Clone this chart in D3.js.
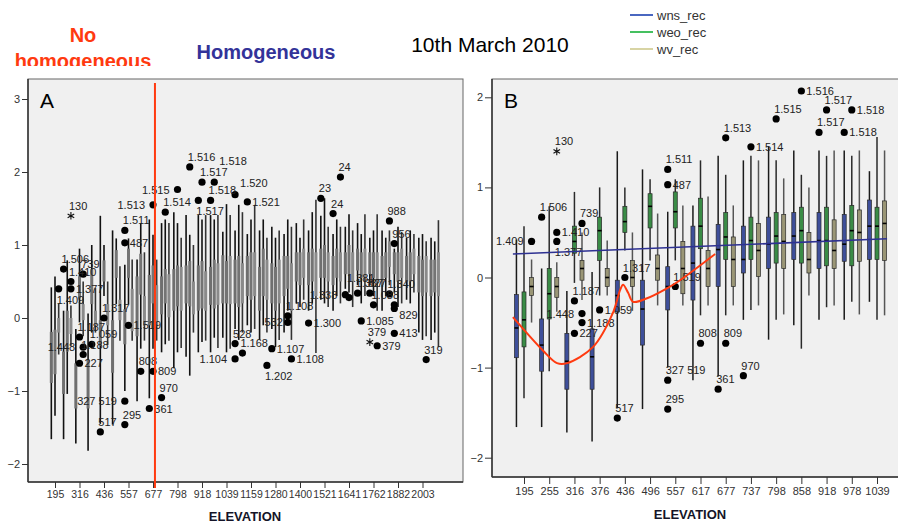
<!DOCTYPE html>
<html><head><meta charset="utf-8">
<script src="https://cdn.jsdelivr.net/npm/d3@7"></script>
<style>body{margin:0;background:#fff}svg{display:block;font-family:"Liberation Sans",Arial,sans-serif}</style>
</head><body><svg id="c" width="898" height="525"></svg>
<script>
// ---------- DATA ----------
const categories = [195,255,316,376,436,496,557,617,677,737,798,858,918,978,1039,1099,1159,1220,1280,1340,1400,1461,1521,1581,1641,1702,1762,1822,1882,1943,2003,2063];
const tickLabelsA = [195,316,436,557,677,798,918,1039,1159,1280,1400,1521,1641,1762,1882,2003];
const tickLabelsB = [195,255,316,376,436,496,557,617,677,737,798,858,918,978,1039];
const yTicksA = [-2,-1,0,1,2,3];
const yTicksB = [-2,-1,0,1,2];
const seriesNames = ["wns_rec","weo_rec","wv_rec"];

const wnsLo  = [-1.66,-1.66,-1.72,-1.82,-1.45,-1.46,-1.00,-1.14,-1.10,-0.47,-0.69,-0.53,-0.47,-0.47,-0.27,-0.15,-0.10,-0.30,-0.15,-0.20,0.20,0.10,0.25,0.10,0.40,0.45,0.45,0.10,0.35,0.25,-0.20,-0.30];
const wnsQ1  = [-0.89,-1.04,-1.24,-1.24,-0.38,-0.75,-0.36,-0.25,-0.10,0.05,0.10,0.20,0.10,0.18,0.20,0.20,0.30,0.10,0.20,0.30,0.50,0.45,0.55,0.45,0.60,0.65,0.60,0.45,0.60,0.50,0.35,0.30];
const wnsMed = [-0.56,-0.75,-0.93,-0.88,-0.20,-0.35,-0.10,0.16,0.31,0.20,0.37,0.46,0.41,0.37,0.57,0.50,0.55,0.40,0.45,0.55,0.70,0.65,0.75,0.65,0.75,0.80,0.75,0.65,0.75,0.65,0.60,0.55];
const wnsQ3  = [-0.19,-0.46,-0.62,-0.57,-0.03,-0.03,0.12,0.57,0.59,0.57,0.67,0.72,0.72,0.70,0.86,0.80,0.85,0.70,0.75,0.85,0.90,0.90,0.95,0.85,0.90,0.95,0.90,0.85,0.90,0.85,0.85,0.80];
const wnsHi  = [0.42,0.10,-0.15,0.06,1.40,1.20,0.73,0.80,1.35,1.30,1.45,1.41,1.41,1.41,1.18,1.20,1.15,1.20,1.25,1.15,1.30,1.20,1.40,1.15,1.25,1.30,1.10,1.20,0.95,1.10,1.10,1.10];

const weoLo  = [-1.34,-1.04,-0.06,-0.20,0.30,0.19,0.19,-0.42,-0.42,-0.36,-0.47,-0.79,-0.33,-0.27,-0.47,-0.30,-0.20,-0.10,-0.40,0.10,0.15,0.20,0.20,0.30,0.35,0.20,0.30,0.30,0.15,0.20,-0.30,-0.20];
const weoQ1  = [-0.77,-0.46,0.27,0.19,0.50,0.55,0.55,0.32,0.20,0.20,0.16,0.16,0.13,0.13,0.20,0.15,0.25,0.30,0.10,0.40,0.45,0.50,0.55,0.55,0.60,0.55,0.55,0.55,0.50,0.50,0.30,0.35];
const weoMed = [-0.47,-0.18,0.40,0.52,0.62,0.79,0.73,0.57,0.45,0.41,0.46,0.52,0.41,0.52,0.57,0.45,0.50,0.60,0.40,0.60,0.65,0.70,0.75,0.75,0.80,0.70,0.70,0.70,0.70,0.70,0.55,0.55];
const weoQ3  = [-0.16,0.10,0.57,0.67,0.79,0.93,0.95,0.88,0.72,0.67,0.72,0.78,0.78,0.80,0.78,0.85,0.90,0.95,0.70,0.85,0.90,0.95,1.00,0.95,1.00,0.90,0.90,0.90,0.90,0.90,0.80,0.80];
const weoHi  = [0.57,0.79,0.95,1.00,1.00,1.09,1.09,1.30,1.14,1.35,1.30,1.14,1.35,1.35,1.56,1.55,1.35,1.35,1.10,1.35,1.10,1.45,1.64,1.35,1.42,1.15,1.20,1.10,1.25,1.20,1.15,1.05];

const wvLo   = [-0.50,-0.38,-0.25,-0.20,-0.37,-0.31,-0.31,-0.31,-0.31,-0.31,-0.41,-0.20,-0.31,-0.41,-0.42,-0.20,-0.15,-0.20,-0.30,-0.30,0.25,-0.48,0.15,0.20,0.15,0.30,0.10,0.45,0.20,0.35,-0.25,-0.40];
const wvQ1   = [-0.20,-0.22,-0.03,-0.10,-0.10,-0.03,-0.18,-0.10,-0.10,0.01,0.10,0.05,0.10,0.18,0.19,0.20,0.30,0.25,0.20,0.10,0.55,0.30,0.50,0.50,0.50,0.55,0.50,0.70,0.55,0.60,0.35,0.30];
const wvMed  = [-0.10,-0.10,0.10,0.00,0.00,0.10,0.10,0.10,0.20,0.30,0.40,0.20,0.30,0.50,0.60,0.50,0.60,0.50,0.50,0.45,0.75,0.60,0.70,0.70,0.70,0.75,0.70,0.90,0.75,0.80,0.60,0.60];
const wvQ3   = [0.00,0.00,0.19,0.10,0.19,0.25,0.40,0.30,0.45,0.60,0.70,0.50,0.64,0.75,0.85,0.75,0.90,0.80,0.80,0.75,0.95,0.90,0.90,0.90,0.90,0.95,0.90,1.05,0.95,0.95,0.85,0.90];
const wvHi   = [0.20,0.17,0.50,0.41,0.50,0.71,0.80,0.90,0.80,1.30,1.10,1.00,1.41,1.41,1.41,1.45,1.55,1.10,1.20,1.25,1.35,1.62,1.25,1.25,1.20,1.42,1.42,1.20,1.18,1.15,1.05,1.34];

// outliers (category index, series index, value, case label, star?)
const outCat    = [0,1,1,1,1,2,2,2,2,2,3,4,4,6,6,6,6,6,7,8,8,8,9,9,10,11,12,12,13,13,15,16,15,15,15,17,18,19,19,19,21,22,23,23,24,24,25,25,26,26,26,26,27,27,28,28,28,28,30];
const outSeries = [2,0,2,2,2,1,1,2,2,2,1,0,1,0,0,0,0,1,1,0,1,1,0,1,1,1,0,1,0,1,0,0,0,0,2,2,0,1,1,2,0,0,0,2,0,1,0,1,0,1,0,2,2,2,0,0,0,0,2];
const outVal    = [0.40,0.67,0.50,0.40,1.40,-0.26,-0.62,0.60,-0.40,-0.50,-0.36,-1.56,0.00,1.20,1.03,-1.14,-1.46,-0.10,-0.73,-1.24,1.55,-0.73,-1.09,1.45,1.76,2.07,1.61,1.86,1.61,1.86,1.69,1.59,-0.35,-0.56,-0.48,-0.65,-0.42,0.03,-0.06,-0.56,-0.07,1.64,1.43,1.93,0.32,0.28,0.34,-0.04,0.34,0.18,-0.33,-0.38,0.33,1.33,1.02,0.18,0.13,-0.21,-0.57];
const outLabel  = ["1.409","1.506","1.410","1.377","130","1.187","227","739","1.448","1.188","1.059","517","1.317","1.511","487","327 519","295","1.519","808","361","1.513","809","970","1.514","1.515","1.516","1.517","1.517","1.518","1.518","1.520","1.521","528","1.104","1.168","1.202","1.107","1.108","532","1.108","1.300","23","24","24","1.338","1.381","1.387","1.085","827","1.088","379","379","1.340","988","956","829","","413","319"];
const outStar   = [0,0,0,0,1,0,0,0,0,0,0,0,0,0,0,0,0,0,0,0,0,0,0,0,0,0,0,0,0,0,0,0,0,0,0,0,0,0,0,0,0,0,0,0,0,0,0,0,0,0,1,0,0,0,0,0,0,0,0];

// annotations (category-index position, value)
const curveIdx = [-0.44,0.75,1.31,1.71,2.74,3.53,3.81,3.93,4.13,4.33,4.88,5.67,6.19,7.58];
const curveVal = [-0.44,-0.81,-0.95,-0.95,-0.77,-0.39,-0.14,-0.08,-0.17,-0.27,-0.23,-0.12,-0.03,0.26];
const trendIdx = [-0.44,14.4];
const trendVal = [0.26,0.43];
const splitIdx = 8.16;

// ---------- DRAW ----------
const svg = d3.select("#c");
const stats = [
  {lo:wnsLo,q1:wnsQ1,med:wnsMed,q3:wnsQ3,hi:wnsHi},
  {lo:weoLo,q1:weoQ1,med:weoMed,q3:weoQ3,hi:weoHi},
  {lo:wvLo,q1:wvQ1,med:wvMed,q3:wvQ3,hi:wvHi}];
const offs = [-0.3,0,0.3];
const legendColors = ["#4a67c0","#45c060","#d8d4a4"];
const boxColorsB = ["#3e4f9a","#3a8c46","#9a9676"];
const FONT = "Liberation Sans, Arial, sans-serif";

function drawPanel(o){
  const g = svg.append("g");
  g.append("rect").attr("x",o.x0).attr("y",o.y0).attr("width",o.x1-o.x0).attr("height",o.y1-o.y0)
    .attr("fill","#f0f0f0").attr("stroke","#666").attr("stroke-width",1);
  const n = o.n;
  const xs = d3.scaleLinear().domain([0,n-1]).range(o.xr);
  const ys = d3.scaleLinear().domain(o.yd).range(o.yr);
  const ya = g.append("g").attr("transform",`translate(${o.x0},0)`)
    .call(d3.axisLeft(ys).tickValues(o.yTicks).tickSize(o.tick).tickPadding(2).tickFormat(d3.format("d")));
  ya.select(".domain").remove();
  ya.selectAll("line").attr("stroke","#333");
  ya.selectAll("text").attr("font-size",11).attr("fill","#333").attr("font-family",FONT);
  const xa = g.append("g").attr("transform",`translate(0,${o.y1})`)
    .call(d3.axisBottom(xs).tickValues(o.xTicks.map(v=>categories.indexOf(v))).tickSize(o.tick).tickPadding(3).tickFormat(i=>categories[i]));
  xa.select(".domain").remove();
  xa.selectAll("line").attr("stroke","#333");
  xa.selectAll("text").attr("font-size",o.xFont).attr("fill","#333").attr("font-family",FONT);
  g.append("line").attr("x1",o.x0).attr("x2",o.x0).attr("y1",o.y0).attr("y2",o.y1).attr("stroke","#333").attr("stroke-width",1.5);
  g.append("line").attr("x1",o.x0).attr("x2",o.x1).attr("y1",o.y1).attr("y2",o.y1).attr("stroke","#333").attr("stroke-width",1.5);
  const rows = [];
  for(let s=0;s<3;s++) for(let i=0;i<n;i++){
    const st = stats[s];
    rows.push({i,s,lo:st.lo[i],q1:st.q1[i],med:st.med[i],q3:st.q3[i],hi:st.hi[i],x:xs(i+offs[s])});
  }
  const bg = g.append("g");
  bg.selectAll("line.w").data(rows).join("line").attr("class","w")
    .attr("x1",d=>d.x).attr("x2",d=>d.x).attr("y1",d=>ys(d.hi)).attr("y2",d=>ys(d.lo))
    .attr("stroke",d=>o.whisker[d.s]).attr("stroke-width",o.whiskerW);
  bg.selectAll("rect.b").data(rows).join("rect").attr("class","b")
    .attr("x",d=>d.x-o.boxW/2).attr("width",o.boxW)
    .attr("y",d=>ys(d.q3)).attr("height",d=>ys(d.q1)-ys(d.q3))
    .attr("fill",d=>o.boxFill[d.s])
    .attr("stroke",o.boxStroke).attr("stroke-width",0.7);
  if(o.median){
    bg.selectAll("line.m").data(rows).join("line").attr("class","m")
      .attr("x1",d=>d.x-o.boxW/2).attr("x2",d=>d.x+o.boxW/2).attr("y1",d=>ys(d.med)).attr("y2",d=>ys(d.med))
      .attr("stroke","#000").attr("stroke-width",1.6);
  }
  // outliers
  const outs = outCat.map((c,k)=>({c,s:outSeries[k],v:outVal[k],lab:outLabel[k],star:outStar[k]})).filter(d=>d.c<n);
  outs.forEach(d=>{ d.px = xs(d.c+offs[d.s]); d.py = ys(d.v); });
  const og = g.append("g");
  const obst = outs.map(d=>({x0:d.px-3.6,x1:d.px+3.6,y0:d.py-3.6,y1:d.py+3.6}));
  const cw = 6.1, h = 9;
  outs.forEach(d=>{
    const px=d.px, py=d.py;
    if(d.star){
      const r=3.8, p=d3.path();
      for(let a=0;a<3;a++){const t=Math.PI/2+a*Math.PI/3;p.moveTo(px+r*Math.cos(t),py+r*Math.sin(t));p.lineTo(px-r*Math.cos(t),py-r*Math.sin(t));}
      og.append("path").attr("d",p.toString()).attr("stroke","#111").attr("stroke-width",1.1).attr("fill","none");
    } else {
      og.append("circle").attr("cx",px).attr("cy",py).attr("r",3.6).attr("fill","#000");
    }
  });
  outs.forEach(d=>{
    if(!d.lab) return;
    const px=d.px, py=d.py, w = d.lab.length*cw;
    const cands = [[px-2,py-6],[px+5,py+4],[px-5-w,py+4],[px-2,py+15],[px-w/2,py-7],[px+5,py-8],[px-w-4,py-8],
                   [px+5,py+14],[px-w-4,py+14],[px-2,py-16],[px-w/2,py+17],[px+5,py-17],[px-w-4,py-17]];
    const box = c => ({x0:c[0],x1:c[0]+w,y0:c[1]-h,y1:c[1]+1});
    const ok = c => c[1]-h >= o.y0+1 && c[0]+w <= o.x1-1 && c[0] >= o.x0+1;
    const hit = c => { const b=box(c); return obst.some(q => !(b.x1 < q.x0 || b.x0 > q.x1 || b.y1 < q.y0 || b.y0 > q.y1)); };
    const best = cands.find(c=>ok(c) && !hit(c)) || cands.find(ok) || cands[0];
    obst.push(box(best));
    og.append("text").attr("x",best[0]).attr("y",best[1]).attr("font-size",11).attr("fill","#222").text(d.lab);
  });
  g.append("text").attr("x",o.x0+12).attr("y",o.y0+29).attr("font-size",21).attr("fill","#000").text(o.letter);
  g.append("text").attr("x",o.titleX).attr("y",o.titleY).attr("text-anchor","middle")
    .attr("font-size",13).attr("font-weight","bold").attr("fill","#141428").text("ELEVATION");
  return {g,xs,ys};
}

const A = drawPanel({x0:28,x1:463,y0:79,y1:482,n:32,xr:[55,434.75],yd:[-2,3],yr:[464,99],
  yTicks:yTicksA,xTicks:tickLabelsA,xFont:10.5,tick:6,boxW:3,whisker:["#111","#111","#333"],whiskerW:1.6,
  boxFill:["#6f6f6f","#747474","#8a8a8a"],boxStroke:"none",median:false,
  letter:"A",titleX:245,titleY:521});
A.g.append("line").attr("x1",A.xs(splitIdx)).attr("x2",A.xs(splitIdx)).attr("y1",83).attr("y2",488)
  .attr("stroke","#ff3a10").attr("stroke-width",2);

const B = drawPanel({x0:492,x1:905,y0:79,y1:477,n:15,xr:[524,877],yd:[-2,2],yr:[457.7,97.3],
  yTicks:yTicksB,xTicks:tickLabelsB,xFont:11,tick:7,boxW:4,whisker:["#1a1a1a","#2a2a2a","#555"],whiskerW:1.5,
  boxFill:boxColorsB,boxStroke:"#2a2a2a",median:true,
  letter:"B",titleX:690,titleY:519});
B.g.append("path").datum(trendIdx.map((t,k)=>[t,trendVal[k]]))
  .attr("d",d3.line().x(d=>B.xs(d[0])).y(d=>B.ys(d[1])))
  .attr("stroke","#2e3192").attr("stroke-width",1.6).attr("fill","none");
B.g.append("path").datum(curveIdx.map((t,k)=>[t,curveVal[k]]))
  .attr("d",d3.line().curve(d3.curveCatmullRom).x(d=>B.xs(d[0])).y(d=>B.ys(d[1])))
  .attr("stroke","#ff3a10").attr("stroke-width",2).attr("fill","none");

// legend
const lg = svg.append("g");
seriesNames.forEach((nm,k)=>{
  const y = 15 + k*17;
  lg.append("line").attr("x1",630).attr("x2",653).attr("y1",y).attr("y2",y).attr("stroke",legendColors[k]).attr("stroke-width",2);
  lg.append("text").attr("x",657).attr("y",y+4.5).attr("font-size",13).attr("fill","#333").text(nm);
});

// headings
svg.append("defs").append("clipPath").attr("id","hc").append("rect").attr("x",0).attr("y",0).attr("width",200).attr("height",66);
const hg = svg.append("g").attr("clip-path","url(#hc)");
hg.append("text").attr("x",83).attr("y",42).attr("text-anchor","middle").attr("font-size",20).attr("font-weight","bold").attr("fill","#ff3a10").text("No");
hg.append("text").attr("x",83).attr("y",68).attr("text-anchor","middle").attr("font-size",20).attr("font-weight","bold").attr("fill","#ff3a10").text("homogeneous");
svg.append("text").attr("x",266).attr("y",59).attr("text-anchor","middle").attr("font-size",20).attr("font-weight","bold").attr("fill","#333399").text("Homogeneous");
svg.append("text").attr("x",490).attr("y",52).attr("text-anchor","middle").attr("font-size",21).attr("fill","#000").text("10th March 2010");
</script></body></html>
